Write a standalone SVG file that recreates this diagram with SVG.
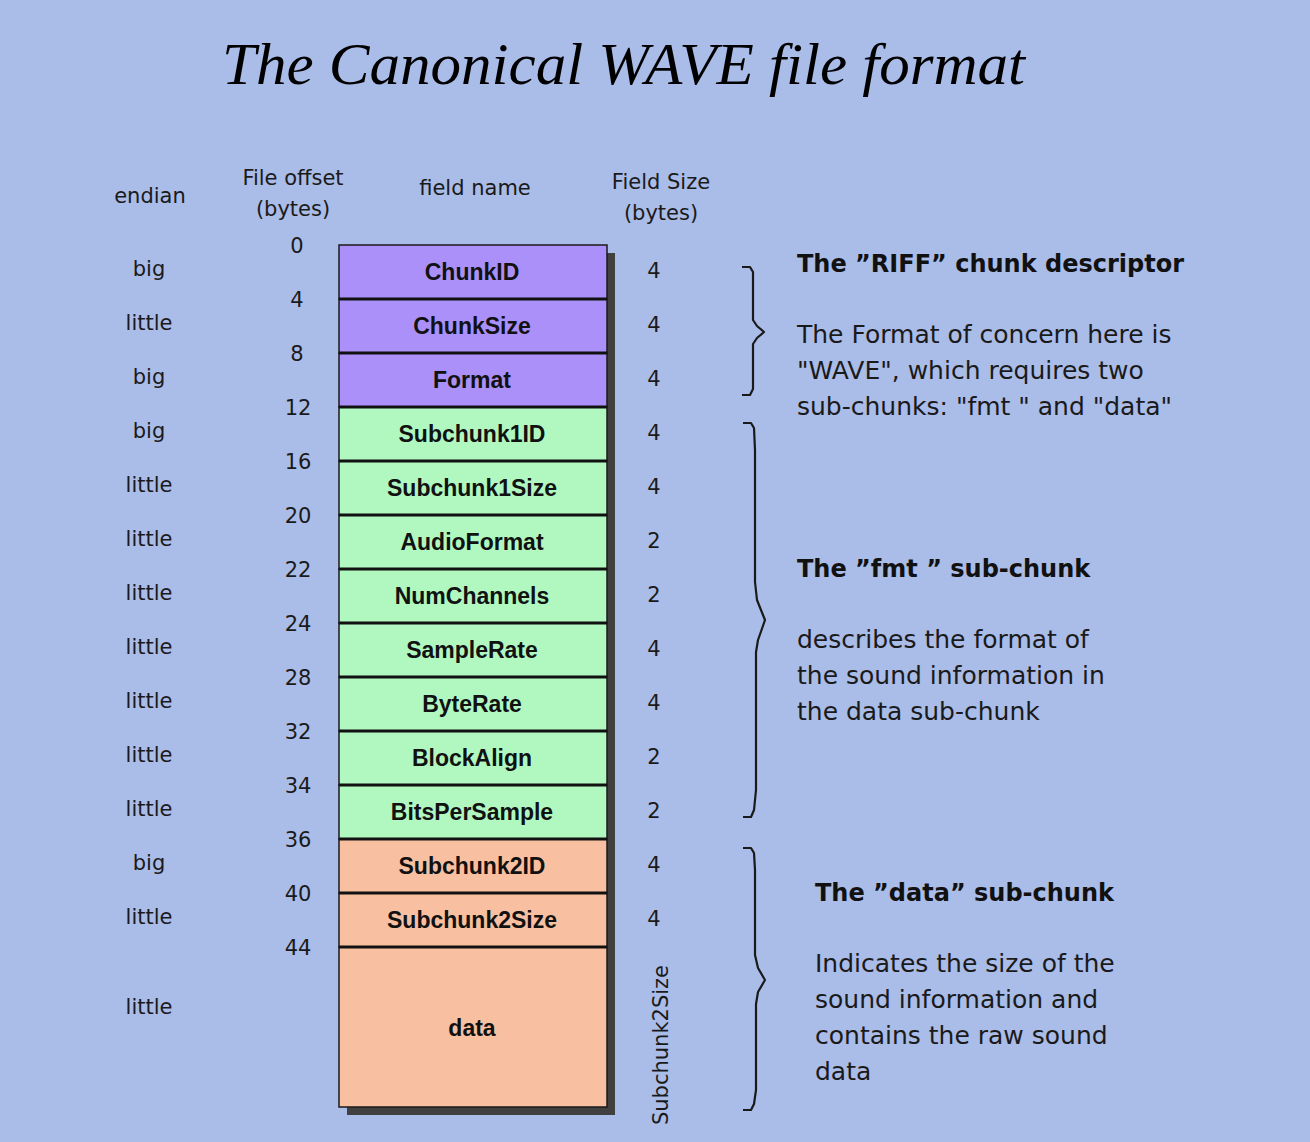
<svg xmlns="http://www.w3.org/2000/svg" width="1310" height="1142" viewBox="0 0 1310 1142">
  <style>
    .title { font-family: "Liberation Serif", "DejaVu Serif", serif; font-style: italic; font-size: 60px; fill: #000; }
    .lbl { font-family: "DejaVu Sans", "Liberation Sans", sans-serif; font-size: 21px; fill: #1a1a1a; text-anchor: middle; }
    .fld { font-family: "Liberation Sans", "DejaVu Sans", sans-serif; font-weight: bold; font-size: 23px; fill: #111; text-anchor: middle; }
    .head { font-family: "DejaVu Sans", "Liberation Sans", sans-serif; font-weight: bold; font-size: 24px; fill: #111; }
    .desc { font-family: "DejaVu Sans", "Liberation Sans", sans-serif; font-size: 25px; fill: #1a1a1a; }
    .riff { fill: #aa90f8; }
    .fmt { fill: #b0f8c0; }
    .dat { fill: #f8c0a0; }
    .cell { stroke: #1a1a1a; stroke-width: 1.5; }
    .div { stroke: #111; stroke-width: 3; }
    .brace { fill: none; stroke: #1a1a1a; stroke-width: 2.2; stroke-linejoin: round; }
  </style>

  <rect x="0" y="0" width="1310" height="1142" fill="#aabce8"/>

  <text class="title" x="222" y="84" textLength="803" lengthAdjust="spacingAndGlyphs">The Canonical WAVE file format</text>

  <!-- column headers -->
  <g id="headers">
    <text class="lbl" x="150" y="203">endian</text>
    <text class="lbl" x="293" y="185">File offset</text>
    <text class="lbl" x="293" y="216">(bytes)</text>
    <text class="lbl" x="475" y="195">field name</text>
    <text class="lbl" x="661" y="189">Field Size</text>
    <text class="lbl" x="661" y="220">(bytes)</text>
  </g>

  <!-- drop shadow of the field stack -->
  <rect x="347" y="253" width="268" height="862" fill="#404040"/>

  <!-- field rows: top = 245 + 54*i -->
  <g id="ChunkID"><rect class="riff cell" x="339" y="245" width="268" height="54"/><text class="fld" x="472" y="280">ChunkID</text></g>
  <g id="ChunkSize"><rect class="riff cell" x="339" y="299" width="268" height="54"/><text class="fld" x="472" y="334">ChunkSize</text></g>
  <g id="Format"><rect class="riff cell" x="339" y="353" width="268" height="54"/><text class="fld" x="472" y="388">Format</text></g>
  <g id="Subchunk1ID"><rect class="fmt cell" x="339" y="407" width="268" height="54"/><text class="fld" x="472" y="442">Subchunk1ID</text></g>
  <g id="Subchunk1Size"><rect class="fmt cell" x="339" y="461" width="268" height="54"/><text class="fld" x="472" y="496">Subchunk1Size</text></g>
  <g id="AudioFormat"><rect class="fmt cell" x="339" y="515" width="268" height="54"/><text class="fld" x="472" y="550">AudioFormat</text></g>
  <g id="NumChannels"><rect class="fmt cell" x="339" y="569" width="268" height="54"/><text class="fld" x="472" y="604">NumChannels</text></g>
  <g id="SampleRate"><rect class="fmt cell" x="339" y="623" width="268" height="54"/><text class="fld" x="472" y="658">SampleRate</text></g>
  <g id="ByteRate"><rect class="fmt cell" x="339" y="677" width="268" height="54"/><text class="fld" x="472" y="712">ByteRate</text></g>
  <g id="BlockAlign"><rect class="fmt cell" x="339" y="731" width="268" height="54"/><text class="fld" x="472" y="766">BlockAlign</text></g>
  <g id="BitsPerSample"><rect class="fmt cell" x="339" y="785" width="268" height="54"/><text class="fld" x="472" y="820">BitsPerSample</text></g>
  <g id="Subchunk2ID"><rect class="dat cell" x="339" y="839" width="268" height="54"/><text class="fld" x="472" y="874">Subchunk2ID</text></g>
  <g id="Subchunk2Size"><rect class="dat cell" x="339" y="893" width="268" height="54"/><text class="fld" x="472" y="928">Subchunk2Size</text></g>
  <g id="data"><rect class="dat cell" x="339" y="947" width="268" height="160"/><text class="fld" x="472" y="1036">data</text></g>

  <!-- heavy row separators -->
  <g id="separators">
    <line class="div" x1="339" y1="299" x2="607" y2="299"/>
    <line class="div" x1="339" y1="353" x2="607" y2="353"/>
    <line class="div" x1="339" y1="407" x2="607" y2="407"/>
    <line class="div" x1="339" y1="461" x2="607" y2="461"/>
    <line class="div" x1="339" y1="515" x2="607" y2="515"/>
    <line class="div" x1="339" y1="569" x2="607" y2="569"/>
    <line class="div" x1="339" y1="623" x2="607" y2="623"/>
    <line class="div" x1="339" y1="677" x2="607" y2="677"/>
    <line class="div" x1="339" y1="731" x2="607" y2="731"/>
    <line class="div" x1="339" y1="785" x2="607" y2="785"/>
    <line class="div" x1="339" y1="839" x2="607" y2="839"/>
    <line class="div" x1="339" y1="893" x2="607" y2="893"/>
    <line class="div" x1="339" y1="947" x2="607" y2="947"/>
  </g>

  <!-- byte order per field -->
  <g id="endian">
    <text class="lbl" x="149" y="276">big</text>
    <text class="lbl" x="149" y="330">little</text>
    <text class="lbl" x="149" y="384">big</text>
    <text class="lbl" x="149" y="438">big</text>
    <text class="lbl" x="149" y="492">little</text>
    <text class="lbl" x="149" y="546">little</text>
    <text class="lbl" x="149" y="600">little</text>
    <text class="lbl" x="149" y="654">little</text>
    <text class="lbl" x="149" y="708">little</text>
    <text class="lbl" x="149" y="762">little</text>
    <text class="lbl" x="149" y="816">little</text>
    <text class="lbl" x="149" y="870">big</text>
    <text class="lbl" x="149" y="924">little</text>
    <text class="lbl" x="149" y="1014">little</text>
  </g>

  <!-- byte offsets at each row boundary -->
  <g id="offsets">
    <text class="lbl" x="297" y="253">0</text>
    <text class="lbl" x="297" y="307">4</text>
    <text class="lbl" x="297" y="361">8</text>
    <text class="lbl" x="298" y="415">12</text>
    <text class="lbl" x="298" y="469">16</text>
    <text class="lbl" x="298" y="523">20</text>
    <text class="lbl" x="298" y="577">22</text>
    <text class="lbl" x="298" y="631">24</text>
    <text class="lbl" x="298" y="685">28</text>
    <text class="lbl" x="298" y="739">32</text>
    <text class="lbl" x="298" y="793">34</text>
    <text class="lbl" x="298" y="847">36</text>
    <text class="lbl" x="298" y="901">40</text>
    <text class="lbl" x="298" y="955">44</text>
  </g>

  <!-- field sizes -->
  <g id="sizes">
    <text class="lbl" x="654" y="278">4</text>
    <text class="lbl" x="654" y="332">4</text>
    <text class="lbl" x="654" y="386">4</text>
    <text class="lbl" x="654" y="440">4</text>
    <text class="lbl" x="654" y="494">4</text>
    <text class="lbl" x="654" y="548">2</text>
    <text class="lbl" x="654" y="602">2</text>
    <text class="lbl" x="654" y="656">4</text>
    <text class="lbl" x="654" y="710">4</text>
    <text class="lbl" x="654" y="764">2</text>
    <text class="lbl" x="654" y="818">2</text>
    <text class="lbl" x="654" y="872">4</text>
    <text class="lbl" x="654" y="926">4</text>
    <text class="lbl" transform="translate(668,1045) rotate(-90)" x="0" y="0">Subchunk2Size</text>
  </g>

  <!-- grouping braces -->
  <g id="connectors">
    <path class="brace" d="M742,267 L750,267 L753,272 L753,320 L757,326 L764,332 L757,338 L753,344 L753,389 L750,395 L742,395"/>
    <path class="brace" d="M743,423 L751,423 L754,428 L755,450 L755,582 L757,600 L765,620 L758,640 L756,652 L756,790 L754,810 L751,817 L743,817"/>
    <path class="brace" d="M743,848 L751,848 L754,853 L755,870 L755,955 L758,968 L765,980 L758,992 L756,1004 L756,1090 L754,1104 L751,1110 L743,1110"/>
  </g>

  <!-- chunk descriptions -->
  <g id="riff-note">
    <text class="head" x="797" y="272">The ”RIFF” chunk descriptor</text>
    <text class="desc" x="797" y="343">The Format of concern here is</text>
    <text class="desc" x="797" y="379">"WAVE", which requires two</text>
    <text class="desc" x="797" y="415">sub-chunks: "fmt " and "data"</text>
  </g>
  <g id="fmt-note">
    <text class="head" x="797" y="577">The ”fmt ” sub-chunk</text>
    <text class="desc" x="797" y="648">describes the format of</text>
    <text class="desc" x="797" y="684">the sound information in</text>
    <text class="desc" x="797" y="720">the data sub-chunk</text>
  </g>
  <g id="data-note">
    <text class="head" x="815" y="901">The ”data” sub-chunk</text>
    <text class="desc" x="815" y="972">Indicates the size of the</text>
    <text class="desc" x="815" y="1008">sound information and</text>
    <text class="desc" x="815" y="1044">contains the raw sound</text>
    <text class="desc" x="815" y="1080">data</text>
  </g>
</svg>
